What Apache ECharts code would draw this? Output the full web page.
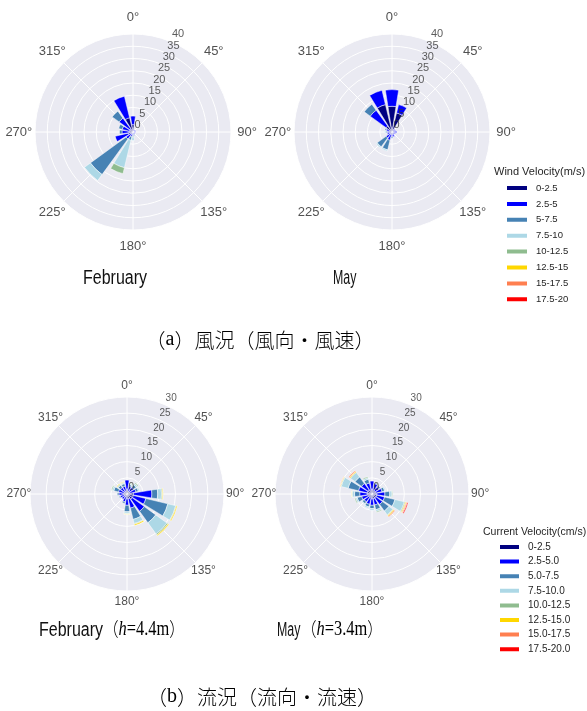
<!DOCTYPE html>
<html>
<head>
<meta charset="utf-8">
<script src="https://cdn.jsdelivr.net/npm/echarts@6/dist/echarts.min.js"></script>
<style>
  html, body { margin: 0; padding: 0; background: #fff; }
  #chart { width: 587px; height: 711px; }
</style>
</head>
<body>
<div id="chart"></div>
<script>
// Sixteen compass sectors, clockwise from north
const directions = ['N','NNE','NE','ENE','E','ESE','SE','SSE','S','SSW','SW','WSW','W','WNW','NW','NNW'];

// Speed classes and their colours
const windClasses = ['0-2.5','2.5-5','5-7.5','7.5-10','10-12.5','12.5-15','15-17.5','17.5-20'];
const currentClasses = ['0-2.5','2.5-5.0','5.0-7.5','7.5-10.0','10.0-12.5','12.5-15.0','15.0-17.5','17.5-20.0'];
const classColors = ['#000080','#0000ff','#4682b4','#add8e6','#8fbc8f','#ffd700','#ff7f50','#ff0000'];

// Tick labels
const compassTicks = [0,45,90,135,180,225,270,315];
const compassLabels = ['0°','45°','90°','135°','180°','225°','270°','315°'];
const windRadiusTicks = [0,5,10,15,20,25,30,35,40];
const currentRadiusTicks = [0,5,10,15,20,25,30];

// Frequency (%) per speed class (rows) and direction (columns, N..NNW)
const febWind = [
  [3.0,0.6,0.7,0.8,0.7,0.6,0.6,0.5,0.5,0.8,1.0,2.0,1.5,1.5,1.5,6.0],
  [3.5,0.4,0.3,0.4,0.3,0.2,0.4,0.5,0.8,1.2,2.5,5.5,3.0,3.0,5.5,9.0],
  [0,0,0,0,0,0,0,0.5,0.7,1.5,18.0,0,1.0,1.5,3.5,0],
  [0,0,0,0,0,0,0,0,1.5,11.5,3.0,0,0,0,0,0],
  [0,0,0,0,0,0,0,0,0,2.5,0,0,0,0,0,0],
  [0,0,0,0,0,0,0,0,0,0,0,0,0,0,0,0],
  [0,0,0,0,0,0,0,0,0,0,0,0,0,0,0,0],
  [0,0,0,0,0,0,0,0,0,0,0,0,0,0,0,0]
];
const mayWind = [
  [10.5,8.0,1.0,0.8,1.0,0.8,0.8,1.0,1.0,1.0,1.0,1.0,1.0,1.0,3.0,11.5],
  [6.8,3.5,0.5,0.7,1.0,0.7,0.5,1.0,1.0,2.5,2.0,1.0,1.0,1.5,8.0,6.0],
  [0,0,0,0,0,0,0,0,0.5,4.0,4.5,0,0.5,0.5,3.0,0],
  [0,0,0,0,0,0,0,0,0,0.5,0.5,0,0.5,0,0,0],
  [0,0,0,0,0,0,0,0,0,0,0,0,0,0,0,0],
  [0,0,0,0,0,0,0,0,0,0,0,0,0,0,0,0],
  [0,0,0,0,0,0,0,0,0,0,0,0,0,0,0,0],
  [0,0,0,0,0,0,0,0,0,0,0,0,0,0,0,0]
];
const febCurrent = [
  [1.5,1.0,1.0,1.0,2.0,2.0,2.0,1.5,1.5,1.0,1.0,1.0,1.0,1.0,1.0,1.0],
  [2.8,1.5,1.5,1.8,5.7,4.0,4.6,3.0,2.0,1.5,1.0,1.2,1.5,1.7,1.5,1.5],
  [0,0.5,1.0,0.8,1.8,7.0,4.4,3.6,2.0,0.5,0,0.3,0.5,1.5,0.8,0.8],
  [0,0.3,0.5,0.4,1.2,2.5,4.3,1.3,0.5,0,0,0,0,0.5,0.4,0.3],
  [0,0.2,0.3,0,0.3,0.2,0.4,0.2,0.2,0,0,0,0,0.3,0,0.2],
  [0,0,0,0,0.2,0.3,0.3,0.4,0.1,0,0,0,0,0,0.2,0.2],
  [0,0,0,0,0,0,0,0,0,0,0,0,0,0,0,0],
  [0,0,0,0,0,0,0,0,0,0,0,0,0,0,0,0]
];
const mayCurrent = [
  [1.5,1.3,1.2,1.2,1.5,1.5,1.5,1.5,1.5,1.3,1.2,1.3,1.5,1.5,1.5,1.3],
  [2.5,2.0,1.5,2.0,2.5,2.5,2.5,2.0,2.0,2.0,1.8,2.0,2.3,2.8,2.5,2.2],
  [0,0.3,0.5,0.8,1.5,3.3,2.5,1.5,1.0,0.8,0.7,1.4,1.6,3.3,2.5,1.2],
  [0,0,0,0.3,0.7,3.0,1.5,0.6,0.5,0.4,0.3,0.5,0.7,2.2,1.8,0.5],
  [0,0,0,0,0.2,0.3,0.2,0.3,0,0,0,0.3,0.2,0.2,0,0.3],
  [0,0,0,0,0,0.3,0.3,0,0,0,0,0,0.1,0.2,0.3,0],
  [0,0,0,0,0,0.3,0.3,0,0,0,0,0,0,0.1,0.3,0],
  [0,0,0,0,0,0.3,0,0,0,0,0,0,0,0,0,0]
];

const sansFont = "'Liberation Sans', Arial, sans-serif";

const panels = [
  { center: [133, 132], radius: 98, max: 40, ticks: windRadiusTicks, rows: febWind, names: windClasses, angleFont: 13, labelRing: 1.165, rFont: 11 },
  { center: [392, 132], radius: 98, max: 40, ticks: windRadiusTicks, rows: mayWind, names: windClasses, angleFont: 13, labelRing: 1.165, rFont: 11 },
  { center: [127, 494], radius: 97, max: 30, ticks: currentRadiusTicks, rows: febCurrent, names: currentClasses, angleFont: 12, labelRing: 1.115, rFont: 10 },
  { center: [372, 494], radius: 97, max: 30, ticks: currentRadiusTicks, rows: mayCurrent, names: currentClasses, angleFont: 12, labelRing: 1.115, rFont: 10 }
];

const polar = [], angleAxis = [], radiusAxis = [], series = [];
const sectorWidth = 360 / directions.length;
const hidden = { axisLine: { show: false }, axisTick: { show: false }, axisLabel: { show: false } };

panels.forEach((p, k) => {
  const bg = 2 * k, bars = 2 * k + 1;

  // Grid layer: white spokes and rings, drawn above the grey disc
  polar.push({ center: p.center, radius: p.radius });
  angleAxis.push(Object.assign({
    polarIndex: bg, type: 'value', min: 0, max: 360, interval: 45,
    startAngle: 90, clockwise: true, z: 1,
    splitLine: { show: true, lineStyle: { color: '#ffffff', width: 1 } }
  }, hidden));
  radiusAxis.push(Object.assign({
    polarIndex: bg, type: 'value', min: 0, max: p.max, interval: 5, z: 1,
    splitLine: { show: true, lineStyle: { color: '#ffffff', width: 1 } }
  }, hidden));

  // Bar layer: grey disc plus stacked sectors centred on each bearing
  polar.push({ center: p.center, radius: p.radius });
  angleAxis.push(Object.assign({
    polarIndex: bars, type: 'category', data: directions, boundaryGap: true,
    startAngle: 90 + sectorWidth / 2, clockwise: true, z: 0,
    splitLine: { show: false }
  }, hidden));
  radiusAxis.push(Object.assign({
    polarIndex: bars, type: 'value', min: 0, max: p.max, interval: 5, z: 0,
    splitLine: { show: false },
    splitArea: { show: true, areaStyle: { color: ['#eaeaf2'] } }
  }, hidden));

  p.rows.forEach((row, c) => {
    series.push({
      type: 'bar', coordinateSystem: 'polar', polarIndex: bars,
      name: p.names[c], stack: 'rose' + k,
      barCategoryGap: '20%',
      data: row.map(v => (v > 0 ? v : '-')),
      itemStyle: { color: classColors[c], borderColor: '#ffffff', borderWidth: 0.5 },
      silent: true
    });
  });

  // Radial tick labels along the NNE bearing
  series.push({
    type: 'scatter', coordinateSystem: 'polar', polarIndex: bg, clip: false,
    data: p.ticks.map(t => [t, 22.5]),
    symbolSize: 1, itemStyle: { color: 'rgba(0,0,0,0)' }, z: 10, silent: true,
    label: {
      show: true, formatter: q => String(q.value[0]),
      position: [2, -1], align: 'left', verticalAlign: 'bottom',
      fontSize: p.rFont, color: '#333333', fontFamily: sansFont
    }
  });

  // Compass labels on a ring just outside the disc
  series.push({
    type: 'scatter', coordinateSystem: 'polar', polarIndex: bg, clip: false,
    data: compassTicks.map(a => [p.max * p.labelRing, a]),
    symbolSize: 1, itemStyle: { color: 'rgba(0,0,0,0)' }, z: 10, silent: true,
    label: {
      show: true, formatter: q => compassLabels[q.dataIndex],
      position: 'inside', align: 'center', verticalAlign: 'middle',
      fontSize: p.angleFont, color: '#262626', fontFamily: sansFont
    }
  });
});

const cjk = "'Noto Sans CJK JP', sans-serif";
const serif = "'Liberation Serif', 'DejaVu Serif', serif";

// Condensed month name
function month(x, y, text, squeeze) {
  return {
    type: 'text', x: x, y: y, scaleX: squeeze, silent: true,
    style: { text: text, font: '20px ' + sansFont, textAlign: 'left', textVerticalAlign: 'middle', fill: '#111' }
  };
}
// Depth note such as （h=4.4m）
function depth(x, y, value) {
  return {
    type: 'text', x: x, y: y, scaleX: 0.82, silent: true,
    style: {
      text: '{p|（}{i|h}{s|=' + value + '}{p|）}',
      textAlign: 'left', textVerticalAlign: 'middle',
      rich: {
        p: { fontFamily: cjk, fontSize: 19, fontWeight: 300, color: '#111' },
        i: { fontFamily: serif, fontSize: 20, fontStyle: 'italic', color: '#111' },
        s: { fontFamily: serif, fontSize: 20, color: '#111' }
      }
    }
  };
}
// Panel caption such as （a）風況（風向・風速）
function caption(x, y, letter, body) {
  return {
    type: 'text', x: x, y: y, silent: true,
    style: {
      text: '{c|（}{s|' + letter + '}{c|）' + body + '}',
      textAlign: 'center', textVerticalAlign: 'middle',
      rich: {
        c: { fontFamily: cjk, fontSize: 20, fontWeight: 300, color: '#111' },
        s: { fontFamily: serif, fontSize: 20, color: '#111' }
      }
    }
  };
}

const option = {
  animation: false,
  backgroundColor: '#ffffff',
  polar, angleAxis, radiusAxis, series,
  legend: [
    {
      data: windClasses, orient: 'vertical', left: 500, top: 177,
      icon: 'rect', itemWidth: 22, itemHeight: 6, itemGap: 3.9,
      textStyle: { fontSize: 9.5, lineHeight: 12, color: '#262626', fontFamily: sansFont, padding: [0, 0, 0, 3] },
      selectedMode: false
    },
    {
      data: currentClasses, orient: 'vertical', left: 493, top: 536,
      icon: 'rect', itemWidth: 21, itemHeight: 6, itemGap: 2.6,
      textStyle: { fontSize: 10, lineHeight: 12, color: '#262626', fontFamily: sansFont, padding: [0, 0, 0, 3] },
      selectedMode: false
    }
  ],
  graphic: [
    { type: 'text', left: 494, top: 166, silent: true,
      style: { text: 'Wind Velocity(m/s)', fontSize: 11, fontFamily: sansFont, fill: '#262626' } },
    { type: 'text', left: 483, top: 527, silent: true,
      style: { text: 'Current Velocity(cm/s)', fontSize: 10.5, fontFamily: sansFont, fill: '#262626' } },
    month(83, 278, 'February', 0.8),
    month(333, 278, 'May', 0.62),
    caption(260, 340, 'a', '風況（風向・風速）'),
    month(39, 630, 'February', 0.8),
    depth(103, 630, '4.4m'),
    month(277, 630, 'May', 0.62),
    depth(301, 630, '3.4m'),
    caption(262, 697, 'b', '流況（流向・流速）')
  ]
};

const chart = echarts.init(document.getElementById('chart'), null, { renderer: 'canvas' });
chart.setOption(option);
</script>
</body>
</html>
